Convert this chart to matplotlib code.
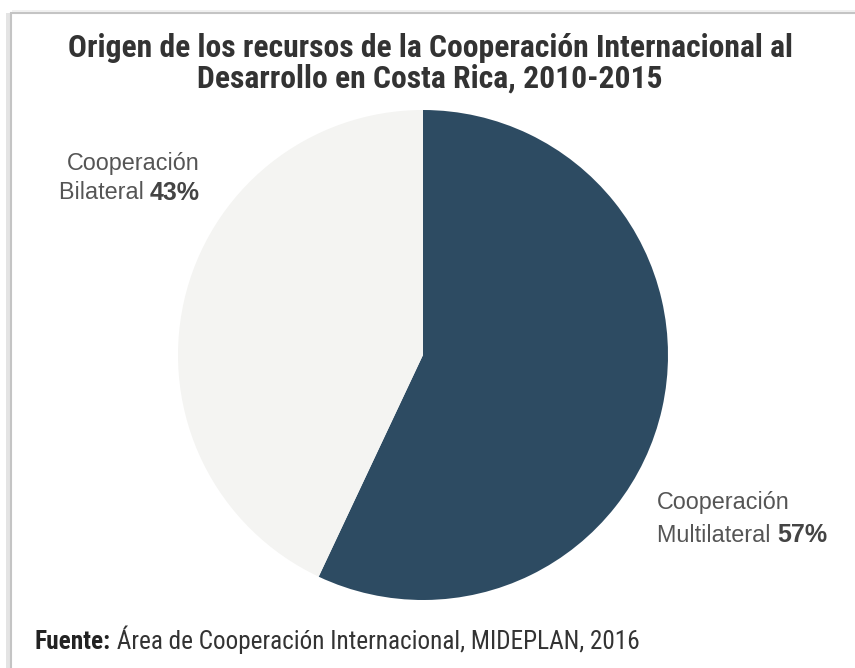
import matplotlib.pyplot as plt
from matplotlib.patches import Rectangle

# datos
categorias = ['Cooperación Multilateral', 'Cooperación Bilateral']
porcentajes = [57, 43]
colores = ['#2D4B62', '#F4F4F2']

titulo = 'Origen de los recursos de la Cooperación Internacional al\nDesarrollo en Costa Rica, 2010-2015'
fuente_bold = 'Fuente:'
fuente_txt = ' Área de Cooperación Internacional, MIDEPLAN, 2016'

cond = ['Roboto Condensed', 'Archivo Narrow', 'DejaVu Sans']
normal = ['Liberation Sans', 'DejaVu Sans']

W, H = 855, 668
fig = plt.figure(figsize=(W / 100, H / 100), dpi=100)
fig.patch.set_facecolor('white')

# marco con sombra
fig.add_artist(Rectangle((6 / W, -0.1), 10 / W, 1 - 13 / H + 0.1, transform=fig.transFigure,
                         facecolor='#e4e4e4', edgecolor='none', zorder=0))
fig.add_artist(Rectangle((11 / W, -0.1), 1.2, 1 - 13 / H + 0.1, transform=fig.transFigure,
                         facecolor='white', edgecolor='#c4c4c4', lw=1.5, zorder=1))
fig.add_artist(Rectangle((12 / W, 1 - 12 / H), 1.2, 2 / H, transform=fig.transFigure,
                         facecolor='#f0f0f0', edgecolor='none', zorder=1))

# pastel
cx, cy, r = 423, 355, 245
ax = fig.add_axes([(cx - r) / W, 1 - (cy + r) / H, 2 * r / W, 2 * r / H])
ax.pie(porcentajes, colors=colores, startangle=90, counterclock=False,
       wedgeprops=dict(linewidth=0))
ax.set_xlim(-1, 1)
ax.set_ylim(-1, 1)
ax.set_aspect('equal')
ax.axis('off')
ax.set_zorder(3)

# capa para textos
ax2 = fig.add_axes([0, 0, 1, 1], zorder=5)
ax2.axis('off')

# titulo
fig.text(430 / W, 1 - 63 / H, titulo, ha='center', va='center', fontsize=22.8,
         fontweight='bold', family=cond, color='#333333', linespacing=1.03, zorder=6)

# etiquetas
gris = '#555555'
fs = 16.8
fsb = 18
fig.text(200 / W, 1 - 163 / H, 'Cooperación', ha='right', va='center',
         fontsize=fs, family=normal, color=gris, zorder=6)
b1 = fig.text(200 / W, 1 - 193 / H, f'{porcentajes[1]}%', ha='right', va='center',
              fontsize=fsb, family=normal, fontweight='bold', color='#444444', zorder=6)
ax2.annotate('Bilateral ', xy=(0, 0.04), xycoords=b1, ha='right', va='bottom',
             fontsize=fs, family=normal, color=gris)

fig.text(657 / W, 1 - 503 / H, 'Cooperación', ha='left', va='center',
         fontsize=fs, family=normal, color=gris, zorder=6)
m1 = fig.text(657 / W, 1 - 535 / H, 'Multilateral ', ha='left', va='center',
              fontsize=fs, family=normal, color=gris, zorder=6)
ax2.annotate(f'{porcentajes[0]}%', xy=(1, -0.04), xycoords=m1, ha='left', va='bottom',
             fontsize=fsb, family=normal, fontweight='bold', color='#444444')

# fuente
f1 = fig.text(35 / W, 1 - 642 / H, fuente_bold, ha='left', va='center', fontsize=18.2,
              family=cond, fontweight='bold', color='#222222', zorder=6)
ax2.annotate(fuente_txt, xy=(1, 0), xycoords=f1, ha='left', va='bottom', fontsize=18.2,
             family=cond, color='#333333')

fig.savefig('out.png', dpi=100)
